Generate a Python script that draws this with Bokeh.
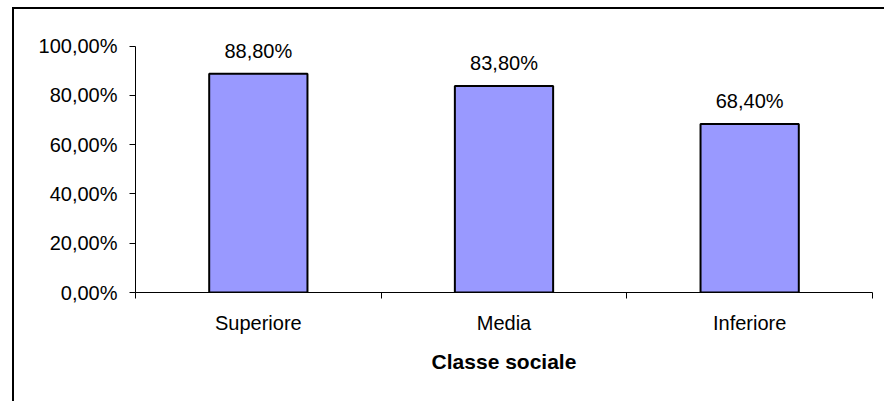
from bokeh.plotting import figure
from bokeh.models import ColumnDataSource, FixedTicker, CustomJSTickFormatter, Range1d
from bokeh.core.properties import value
from bokeh.embed import file_html
from bokeh.resources import INLINE

# Quota per classe sociale
categories = ["Superiore", "Media", "Inferiore"]
percentages = [88.8, 83.8, 68.4]
y_ticks = [0, 20, 40, 60, 80, 100]

FONT = "Liberation Sans"

positions = [i + 0.5 for i in range(len(categories))]
labels = [f"{v:.2f}".replace(".", ",") + "%" for v in percentages]
source = ColumnDataSource(dict(x=positions, top=percentages, label=labels))

# il riquadro sale oltre il 100% per lasciare spazio alle etichette dei valori
p = figure(width=872, height=394, output_backend="svg", toolbar_location=None,
           x_range=Range1d(0, len(categories)), y_range=Range1d(0, 110),
           min_border_left=121, min_border_top=12, min_border_right=14,
           min_border_bottom=111)
p.margin = (7, 0, 0, 12)
p.styles = {"border-top": "2px solid #000", "border-left": "2px solid #000"}

p.vbar(x="x", top="top", width=0.4, bottom=0, source=source,
       fill_color="#9999FF", line_color="#000000", line_width=2)
p.text(x="x", y="top", text="label", source=source, text_align="center",
       text_baseline="alphabetic", y_offset=-23, text_font=value(FONT),
       text_font_size="20px", text_color="#000000")

p.xgrid.visible = False
p.ygrid.visible = False
p.outline_line_color = None
p.background_fill_color = "#FFFFFF"
p.border_fill_color = "#FFFFFF"

# asse x: etichette al centro, tacche ai confini delle categorie
xa = p.xaxis[0]
xa.ticker = FixedTicker(ticks=positions, minor_ticks=list(range(len(categories) + 1)))
xa.major_label_overrides = {pos: name for pos, name in zip(positions, categories)}
xa.major_tick_line_color = None
xa.major_tick_out = 0
xa.major_tick_in = 0
xa.minor_tick_out = 6
xa.minor_tick_in = 0
xa.minor_tick_line_color = "#000000"
xa.axis_line_color = "#000000"
xa.major_label_text_font = FONT
xa.major_label_text_font_size = "20px"
xa.major_label_text_color = "#000000"
xa.major_label_standoff = 13
xa.axis_label = "Classe sociale"
xa.axis_label_text_font = FONT
xa.axis_label_text_font_size = "21px"
xa.axis_label_text_font_style = "bold"
xa.axis_label_text_color = "#000000"
xa.axis_label_standoff = 13

ya = p.yaxis[0]
ya.bounds = (0, 100)
ya.ticker = FixedTicker(ticks=y_ticks, minor_ticks=[])
ya.formatter = CustomJSTickFormatter(code="return tick.toFixed(2).replace('.', ',') + '%';")
ya.major_tick_out = 6
ya.major_tick_in = 0
ya.major_tick_line_color = "#000000"
ya.axis_line_color = "#000000"
ya.major_label_text_font = FONT
ya.major_label_text_font_size = "20px"
ya.major_label_text_color = "#000000"
ya.major_label_standoff = 12

open("out.html", "w").write(file_html(p, INLINE))
